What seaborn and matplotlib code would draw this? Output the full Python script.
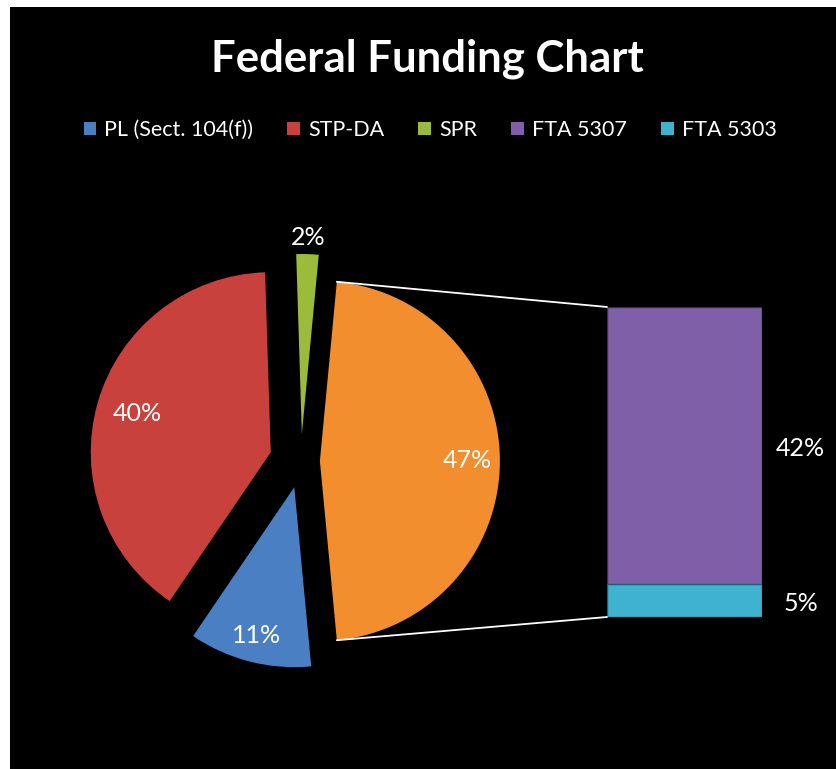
import numpy as np
import pandas as pd
import matplotlib
matplotlib.use("Agg")
import matplotlib.pyplot as plt
import seaborn as sns
from matplotlib.patches import Rectangle, Patch, ConnectionPatch

# ---- data ----
title = "Federal Funding Chart"
legend_names = ["PL (Sect. 104(f))", "STP-DA", "SPR", "FTA 5307", "FTA 5303"]
legend_colors = ["#4A7FC4", "#C8413D", "#9BBB3A", "#7E5FA8", "#3FB2D0"]

pie_names = ["Other", "SPR", "STP-DA", "PL (Sect. 104(f))"]
pie_values = [47, 2, 40, 11]
pie_labels = ["47%", "2%", "40%", "11%"]
pie_colors = ["#F28E2E", "#9BBB3A", "#C8413D", "#4A7FC4"]

bar_names = ["FTA 5303", "FTA 5307"]
bar_values = [5, 42]
bar_labels = ["5%", "42%"]
bar_colors = ["#3FB2D0", "#7E5FA8"]

# ---- style ----
sns.set_theme(style="dark")
plt.rcParams["font.family"] = ["Lato", "DejaVu Sans"]

W, H = 836, 769
fig = plt.figure(figsize=(W / 100, H / 100), dpi=100, facecolor="white")
fig.patches.append(Rectangle((10 / W, 0), (W - 10) / W, (H - 7) / H,
                             transform=fig.transFigure, facecolor="black",
                             edgecolor="none", zorder=-10))

def px_axes(x0, y0, x1, y1):
    return fig.add_axes([x0 / W, 1 - y1 / H, (x1 - x0) / W, (y1 - y0) / H])

# ---- pie ----
R = 180
cx, cy = 301, 461
pax = px_axes(cx - 1.5 * R, cy - 1.5 * R, cx + 1.5 * R, cy + 1.5 * R)
pax.set_facecolor("none")
explode = [0.105, 0.15, 0.175, 0.15]
half = 360 * pie_values[0] / sum(pie_values) / 2
wedges, _ = pax.pie(pie_values, colors=pie_colors, explode=explode,
                    startangle=-half, counterclock=True, radius=1,
                    wedgeprops=dict(linewidth=0))
pax.set_xlim(-1.5, 1.5)
pax.set_ylim(-1.5, 1.5)
pax.set_aspect("equal")
pax.axis("off")

label_dist = [0.82, 1.09, 0.77, 0.85]
for w, lab, d in zip(wedges, pie_labels, label_dist):
    mid = np.deg2rad((w.theta1 + w.theta2) / 2)
    c = w.center
    pax.text(c[0] + d * np.cos(mid), c[1] + d * np.sin(mid), lab,
             color="white", fontsize=18, ha="center", va="center")

# ---- stacked bar (seaborn) ----
bax = px_axes(607, 307, 762, 617)
bax.set_facecolor("none")
df_total = pd.DataFrame({"g": ["Other"], "v": [sum(bar_values)]})
df_low = pd.DataFrame({"g": ["Other"], "v": [bar_values[0]]})
sns.barplot(data=df_total, x="g", y="v", color=bar_colors[1], width=1.0,
            saturation=1, ax=bax, edgecolor="#3a2d52", linewidth=1)
sns.barplot(data=df_low, x="g", y="v", color=bar_colors[0], width=1.0,
            saturation=1, ax=bax, edgecolor="#1c5f70", linewidth=1)
bax.set_xlim(-0.5, 0.5)
bax.set_ylim(0, sum(bar_values))
bax.axis("off")
cum = 0
for v, lab in zip(bar_values, bar_labels):
    bax.text(0.75, cum + v / 2 - 0.4, lab, color="white", fontsize=18,
             ha="center", va="center")
    cum += v

# ---- connector lines ----
th = np.deg2rad(half)
ex = explode[0]
for sgn, yb in [(1, sum(bar_values)), (-1, 0)]:
    con = ConnectionPatch(xyA=(ex + np.cos(th), sgn * np.sin(th)), coordsA=pax.transData,
                          xyB=(-0.5, yb), coordsB=bax.transData,
                          color="white", linewidth=1.3)
    fig.add_artist(con)

# ---- title & legend ----
fig.text(427 / W, 1 - 59 / H, title, color="white", fontsize=31.5,
         fontweight="bold", ha="center", va="center")
handles = [Patch(facecolor=c, edgecolor="none") for c in legend_colors]
leg = fig.legend(handles, legend_names, loc="center", ncol=5,
                 bbox_to_anchor=(430 / W, 1 - 130 / H), frameon=False,
                 fontsize=15.5, labelcolor="white", handlelength=0.6,
                 handleheight=0.6, handletextpad=0.35, columnspacing=1.6)

fig.savefig("out.png", dpi=100, facecolor="white")
